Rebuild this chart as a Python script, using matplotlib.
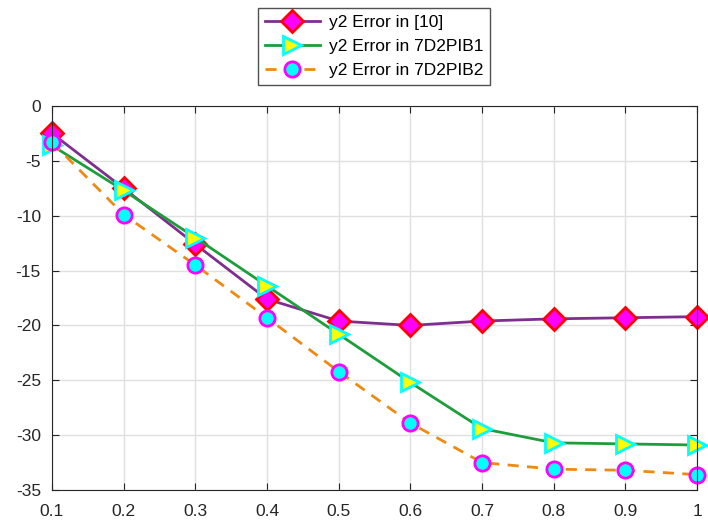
import matplotlib
matplotlib.use('Agg')
import matplotlib.pyplot as plt

plt.rcParams['font.family'] = ['Liberation Sans', 'DejaVu Sans']
plt.rcParams['axes.unicode_minus'] = False

x = [0.1, 0.2, 0.3, 0.4, 0.5, 0.6, 0.7, 0.8, 0.9, 1.0]
err_ref10 = [-2.5, -7.5, -12.6, -17.6, -19.6, -20.0, -19.6, -19.4, -19.3, -19.2]
err_pib1 = [-3.6, -7.7, -12.0, -16.4, -20.8, -25.2, -29.4, -30.7, -30.8, -30.9]
err_pib2 = [-3.3, -9.9, -14.5, -19.3, -24.2, -28.9, -32.5, -33.1, -33.2, -33.6]

xticks = [0.1, 0.2, 0.3, 0.4, 0.5, 0.6, 0.7, 0.8, 0.9, 1]
xticklabels = ['0.1', '0.2', '0.3', '0.4', '0.5', '0.6', '0.7', '0.8', '0.9', '1']
yticks = [0, -5, -10, -15, -20, -25, -30, -35]

fig = plt.figure(figsize=(7.08, 5.24), dpi=100)
ax = fig.add_axes([52/708, 1-490/524, (697-52)/708, (490-106)/524])

ax.plot(x, err_ref10, color='#7E2F8E', lw=2, marker='D', ms=11,
        mfc='#FF00FF', mec='#FF0000', mew=2, label='y2 Error in [10]', clip_on=False)
ax.plot(x, err_pib1, color='#1E9E3A', lw=2, marker='>', ms=13,
        mfc='#FFFF00', mec='#00FFFF', mew=2, label='y2 Error in 7D2PIB1', clip_on=False)
ax.plot(x, err_pib2, color='#EE8A12', lw=2, ls=(0, (4, 3)), marker='o', ms=11,
        mfc='#00FFFF', mec='#FF00FF', mew=2, label='y2 Error in 7D2PIB2', clip_on=False)

ax.set_xlim(0.1, 1)
ax.set_ylim(-35, 0)
ax.set_xticks(xticks)
ax.set_xticklabels(xticklabels)
ax.set_yticks(yticks)
ax.grid(True, color='#E0E0E0', lw=1)
ax.set_axisbelow(True)
ax.tick_params(direction='in', labelsize=12.5, colors='#262626', length=5,
               top=True, right=True)
ax.tick_params(axis='x', pad=10)
ax.tick_params(axis='y', pad=8)
for s in ax.spines.values():
    s.set_color('#262626')

leg = fig.legend(loc='upper center', bbox_to_anchor=(374/708, 1-8/524),
                 fontsize=12.5, fancybox=False, edgecolor='#262626',
                 handlelength=3.2, borderpad=0.4, labelspacing=0.5,
                 handletextpad=0.5, borderaxespad=0)
leg.get_frame().set_linewidth(1)

fig.savefig('out.png', dpi=100)
